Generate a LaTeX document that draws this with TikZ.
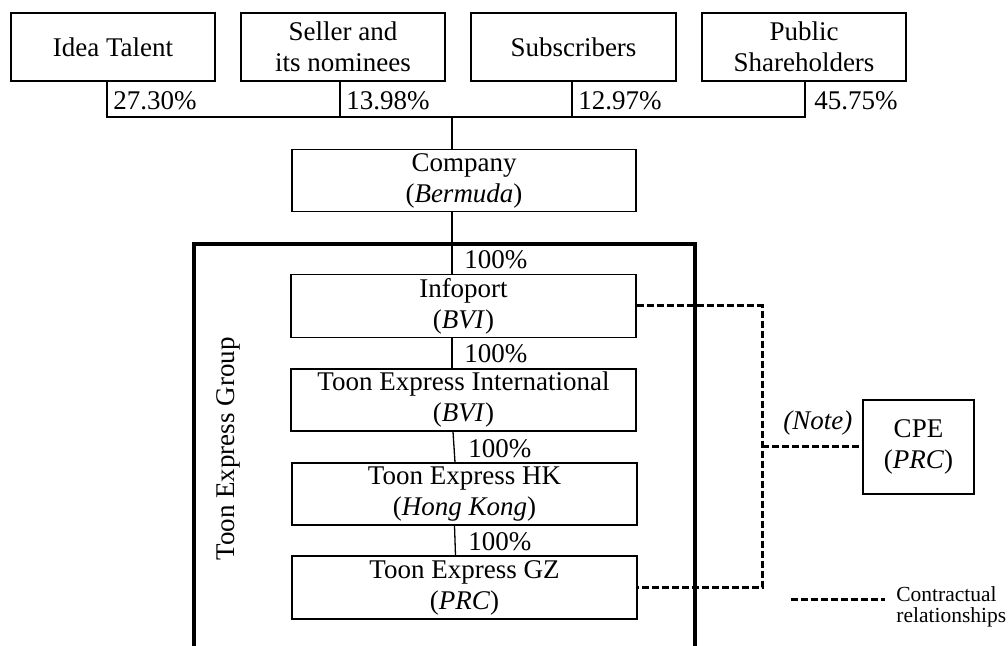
\documentclass[tikz,border=0pt]{standalone}
\usepackage{fontspec}
\setmainfont{Liberation Serif}
\begin{document}
\begin{tikzpicture}[x=0.5pt,y=-0.5pt,
  box/.style={draw,line width=0.65pt,inner sep=0pt,align=center,font=\fontsize{13.5}{15.5}\selectfont},
  lbl/.style={inner sep=0pt,anchor=base west,font=\fontsize{13.5}{15.5}\selectfont},
  small/.style={inner sep=0pt,anchor=base west,font=\fontsize{10.75}{10.75}\selectfont},
  link/.style={line width=0.65pt},
  contract/.style={line width=1.5pt,dash pattern=on 3.6pt off 1.4pt},
  groupframe/.style={line width=2pt}]
\useasboundingbox (0,0) rectangle (1008,646);

% shareholders
\node[box,minimum width=102pt,minimum height=34pt] (idea) at (113,47) {Idea Talent};
\node[box,minimum width=102pt,minimum height=34pt] (seller) at (343,47) {Seller and\\its nominees};
\node[box,minimum width=102.5pt,minimum height=34pt] (subs) at (573.5,47) {Subscribers};
\node[box,minimum width=102pt,minimum height=34pt] (public) at (804,47) {Public\\Shareholders};

% company and group
\node[box,minimum width=172pt,minimum height=31pt] (company) at (464,180.5) {Company\\(\textit{Bermuda})};
\node[box,minimum width=172.5pt,minimum height=31.5pt] (infoport) at (463.5,306) {Infoport\\(\textit{BVI})};
\node[box,minimum width=172.5pt,minimum height=31pt] (tei) at (463.5,400) {Toon Express International\\(\textit{BVI})};
\node[box,minimum width=172.5pt,minimum height=31pt] (hk) at (464.5,494) {Toon Express HK\\(\textit{Hong Kong})};
\node[box,minimum width=172.5pt,minimum height=31.5pt] (gz) at (464.5,587.5) {Toon Express GZ\\(\textit{PRC})};
\node[box,minimum width=55.5pt,minimum height=47pt] (cpe) at (918.5,447) {CPE\\(\textit{PRC})};

% group frame
\draw[groupframe] (194,650) -- (194,244) -- (695,244) -- (695,650);
\node[font=\fontsize{13.5}{15.5}\selectfont,rotate=90,inner sep=0pt] (grp) at (228,449) {Toon Express Group};

% shareholder bus
\coordinate (busL) at (107,117);
\coordinate (busR) at (805,117);
\coordinate (busM) at (452,117);
\draw[link] ([xshift=-3pt]idea.south) -- (busL) -- (busR) -- ([xshift=0.5pt]public.south);
\path ([xshift=-1.5pt]seller.south) coordinate (sv);
\draw[link] (sv) -- (sv |- busL);
\path ([xshift=-0.75pt]subs.south) coordinate (bv);
\draw[link] (bv) -- (bv |- busL);
\draw[link] (busM) -- (busM |- company.north);

\node[lbl] (p1) at (113,110) {27.30\%};
\node[lbl] (p2) at (346,110) {13.98\%};
\node[lbl] (p3) at (578,110) {12.97\%};
\node[lbl] (p4) at (814,110) {45.75\%};

% ownership chain
\draw[link] (company.south -| busM) -- (infoport.north -| busM);
\draw[link] (infoport.south -| busM) -- (tei.north -| busM);
\draw[link] ([xshift=-5.25pt]tei.south) -- ([xshift=-4.75pt]hk.north);
\draw[link] ([xshift=-5pt]hk.south) -- ([xshift=-4.5pt]gz.north);

\node[lbl] (h1) at (464,269) {100\%};
\node[lbl] (h2) at (464,363) {100\%};
\node[lbl] (h3) at (468,458) {100\%};
\node[lbl] (h4) at (468,551) {100\%};

% contractual relationships
\coordinate (dv) at (762,0);
\draw[contract] (infoport.east) -- (infoport.east -| dv) -- (gz.east -| dv) -- (gz.east);
\draw[contract] (cpe.west -| dv) -- (cpe.west);
\node[lbl,font=\fontsize{13.5}{15.5}\selectfont\itshape] (note) at (783,430) {(Note)};

% legend
\coordinate (lg1) at (791,600);
\coordinate (lg2) at (885,600);
\draw[contract] (lg1) -- (lg2);
\node[small] (leg1) at (896,602) {Contractual};
\node[small] (leg2) at (896,623) {relationships};
\end{tikzpicture}
\end{document}
